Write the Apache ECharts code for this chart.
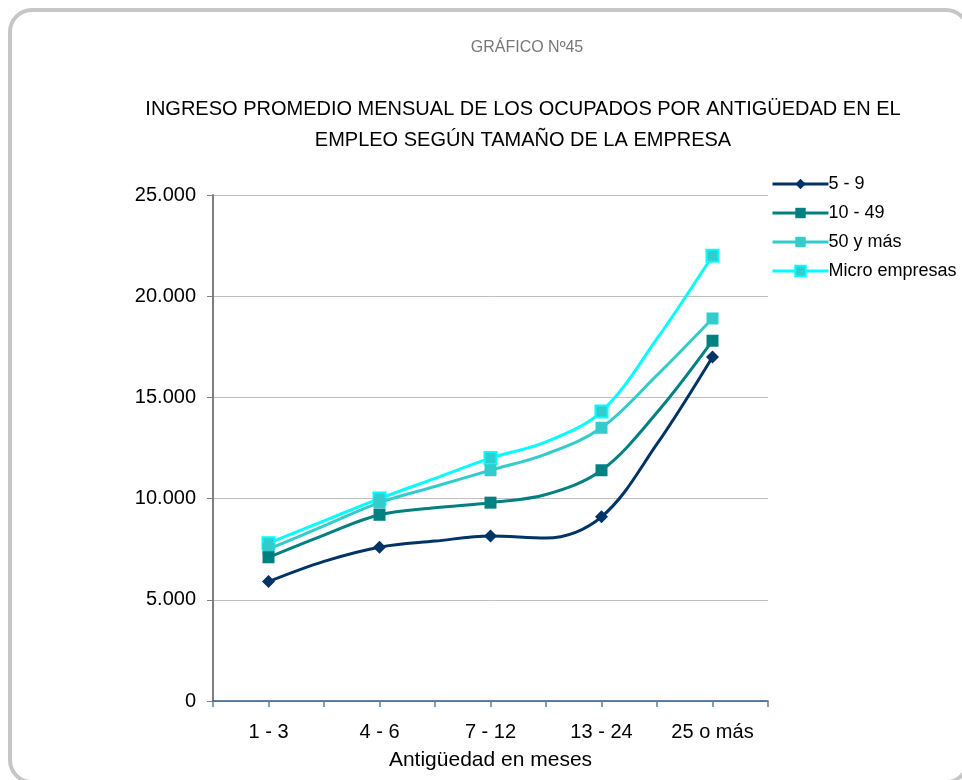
<!DOCTYPE html>
<html>
<head>
<meta charset="utf-8">
<script src="https://cdn.jsdelivr.net/npm/echarts@6/dist/echarts.min.js"></script>
<style>
html,body{margin:0;padding:0;background:#fff;}
#chart{width:962px;height:780px;}
</style>
</head>
<body>
<div id="chart"></div>
<script>
// Category slots: labelled points at odd indexes, intermediate smoothing points between them
const categories = ["", "1 - 3", "", "4 - 6", "", "7 - 12", "", "13 - 24", "", "25 o más", ""];
const seriesNames = ["5 - 9", "10 - 49", "50 y más", "Micro empresas"];
const s5a9   = [null, 5900, 6900, 7600, 7900, 8150, 8050, 9100, 12700, 17000, null];
const s10a49 = [null, 7100, 8200, 9200, 9550, 9800, 10200, 11400, 14250, 17800, null];
const s50mas = [null, 7500, 8650, 9800, 10600, 11400, 12200, 13500, 16100, 18900, null];
const sMicro = [null, 7800, 8900, 10000, 11000, 12000, 12800, 14300, 17900, 22000, null];
const yTicks = [0, 5000, 10000, 15000, 20000, 25000];

const colors = ["#003366", "#008080", "#33CCCC", "#00FFFF"];
const symbols = ["diamond", "rect", "rect", "rect"];
const symbolSizes = [13, 12, 12, 12];

function toData(arr) {
  return arr.map((v, i) => {
    if (v === null) return null;
    const labelled = categories[i] !== "";
    return labelled ? { value: v } : { value: v, symbol: "none" };
  });
}

const allData = [s5a9, s10a49, s50mas, sMicro];
const fmt = v => String(v).replace(/\B(?=(\d{3})+(?!\d))/g, ".");

const series = allData.map((arr, si) => ({
  name: seriesNames[si],
  type: "line",
  data: toData(arr),
  smooth: 0.35,
  smoothMonotone: null,
  symbol: symbols[si],
  symbolSize: symbolSizes[si],
  showAllSymbol: true,
  lineStyle: { color: colors[si], width: 3 },
  itemStyle: si === 3
    ? { color: "#33CCCC", borderColor: "#00FFFF", borderWidth: 2 }
    : { color: colors[si] },
  z: 10 - si
}));

const FONT = "Liberation Sans, Arial, sans-serif";
const chart = echarts.init(document.getElementById("chart"), null, { renderer: "canvas" });
chart.setOption({
  backgroundColor: "#ffffff",
  animation: false,
  textStyle: { fontFamily: FONT },
  graphic: [{
    type: "rect",
    shape: { x: 10, y: 10, width: 958, height: 772, r: 22 },
    style: { fill: "none", stroke: "#c6c6c6", lineWidth: 4 },
    silent: true, z: -1
  }],
  title: [{
    text: "GRÁFICO Nº45",
    left: 522, top: 35, textAlign: "center",
    textStyle: { fontSize: 16, fontWeight: "normal", color: "#777777", fontFamily: FONT }
  }, {
    text: "INGRESO PROMEDIO MENSUAL DE LOS OCUPADOS POR ANTIGÜEDAD EN EL\nEMPLEO SEGÚN TAMAÑO DE LA EMPRESA",
    left: 518, top: 89, textAlign: "center",
    textStyle: { fontSize: 20, fontWeight: "normal", color: "#000000", lineHeight: 31, fontFamily: FONT }
  }],
  legend: {
    orient: "vertical",
    left: 766, top: 170,
    itemWidth: 56, itemHeight: 13, itemGap: 11,
    data: seriesNames,
    lineStyle: { width: 3 },
    textStyle: { fontSize: 18, color: "#000000", padding: [0, 0, 0, -5] }
  },
  grid: { left: 213, top: 195, width: 555, height: 506, containLabel: false },
  xAxis: {
    type: "category",
    data: categories,
    boundaryGap: false,
    name: "Antigüedad en meses",
    nameLocation: "middle",
    nameGap: 49,
    nameTextStyle: { fontSize: 21, color: "#000000" },
    axisLine: { lineStyle: { color: "#2F5B8A", width: 1.5 } },
    axisTick: { show: true, interval: 0, length: 6, inside: false, lineStyle: { color: "#5b7fa6", width: 1.5 } },
    axisLabel: { interval: 0, fontSize: 20, color: "#000000", margin: 21 },
    splitLine: { show: false }
  },
  yAxis: {
    type: "value",
    min: 0, max: 25000, interval: 5000,
    axisLine: { show: true, lineStyle: { color: "#808080", width: 2 } },
    axisTick: { show: true, length: 6, lineStyle: { color: "#808080" } },
    axisLabel: { fontSize: 20, color: "#000000", margin: 17, formatter: v => yTicks.includes(v) ? fmt(v) : "" },
    splitLine: { show: true, lineStyle: { color: "#bfbfbf", width: 1 } }
  },
  series: series
});
</script>
</body>
</html>
